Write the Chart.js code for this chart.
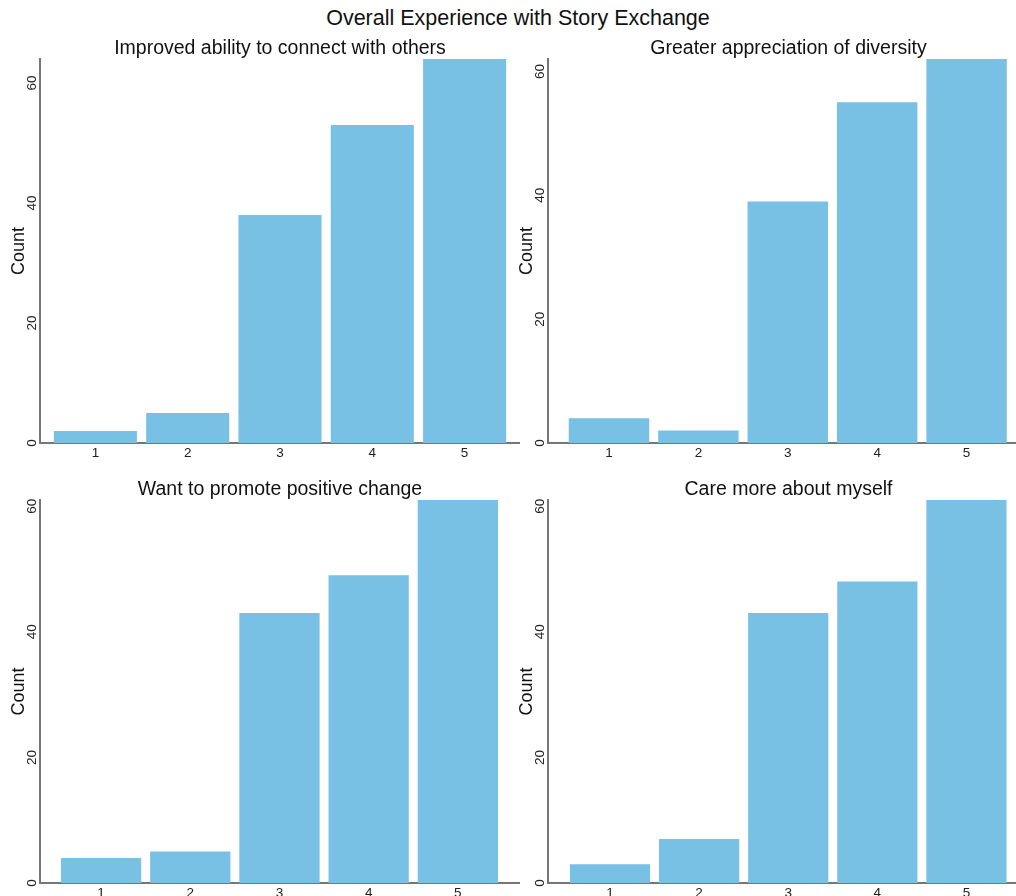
<!DOCTYPE html>
<html lang="en">
<head>
    <meta charset="UTF-8">
    <title>Overall Experience with Story Exchange</title>
    <script src="https://cdn.jsdelivr.net/npm/chart.js"></script>
    <style>
        body {
            margin: 0;
            background: #fff;
            font-family: 'Liberation Sans', Arial, sans-serif;
        }
        .page {
            position: relative;
            width: 1016px;
            height: 896px;
            overflow: hidden;
        }
        .main-title {
            position: absolute;
            left: 10px;
            top: 5px;
            width: 1016px;
            text-align: center;
            font-size: 21.5px;
            line-height: 26px;
            color: #111;
        }
        canvas {
            position: absolute;
        }
    </style>
</head>
<body>
<div class="page">
    <div class="main-title">Overall Experience with Story Exchange</div>
    <canvas id="c0" width="520" height="426" style="left:0;top:39px"></canvas>
    <canvas id="c1" width="521" height="426" style="left:508px;top:39px"></canvas>
    <canvas id="c2" width="520" height="416" style="left:0;top:480px"></canvas>
    <canvas id="c3" width="521" height="416" style="left:508px;top:480px"></canvas>
</div>

<script>
    // rating categories and answer counts per statement
    const ratings = [1, 2, 3, 4, 5];
    const connectCounts = [2, 5, 38, 53, 64];
    const diversityCounts = [4, 2, 39, 55, 62];
    const changeCounts = [4, 5, 43, 49, 61];
    const myselfCounts = [3, 7, 43, 48, 61];
    const yTicks = [0, 20, 40, 60];

    const panelTitles = [
        'Improved ability to connect with others',
        'Greater appreciation of diversity',
        'Want to promote positive change',
        'Care more about myself'
    ];
    const panelCounts = [connectCounts, diversityCounts, changeCounts, myselfCounts];

    // x range of each panel (right panels run past the page edge) and x axis strip height
    const xRanges = [[0.40, 5.60], [0.318, 5.698], [0.315, 5.697], [0.304, 5.702]];
    const xAxisHeights = [22, 22, 13, 13];

    const barColor = '#78c1e4';
    const axisColor = '#767676';
    const textColor = '#222';

    Chart.defaults.font.family = "'Liberation Sans', Arial, sans-serif";

    function makePanel(i) {
        const counts = panelCounts[i];
        new Chart(document.getElementById('c' + i), {
            type: 'bar',
            data: {
                labels: ratings,
                datasets: [{
                    data: counts,
                    backgroundColor: barColor,
                    borderWidth: 0,
                    barPercentage: 0.9,
                    categoryPercentage: 1.0
                }]
            },
            options: {
                responsive: false,
                animation: false,
                layout: { padding: 0 },
                plugins: {
                    legend: { display: false },
                    tooltip: { enabled: false },
                    title: {
                        display: true,
                        text: panelTitles[i],
                        fullSize: false,
                        color: '#111',
                        padding: 0,
                        font: { size: 19.5, weight: 'normal', lineHeight: '20px' }
                    }
                },
                scales: {
                    x: {
                        type: 'linear',
                        min: xRanges[i][0],
                        max: xRanges[i][1],
                        offset: false,
                        z: 1,
                        afterBuildTicks: s => { s.ticks = ratings.map(v => ({ value: v })); },
                        afterFit: s => { s.height = xAxisHeights[i]; },
                        grid: { display: false, drawTicks: false },
                        border: { color: axisColor, width: 2 },
                        ticks: { padding: 2, maxRotation: 0, color: textColor, font: { size: 13.5 } }
                    },
                    y: {
                        min: 0,
                        max: Math.max(...counts),
                        z: 1,
                        afterBuildTicks: s => { s.ticks = yTicks.map(v => ({ value: v })); },
                        afterFit: s => { s.width = 40; },
                        grid: { display: false, drawTicks: false },
                        border: { color: axisColor, width: 2 },
                        ticks: {
                            minRotation: 90,
                            maxRotation: 90,
                            crossAlign: 'center',
                            padding: 0,
                            color: textColor,
                            font: { size: 13.5 }
                        },
                        title: {
                            display: true,
                            text: 'Count',
                            color: '#111',
                            padding: { top: 8, bottom: 0 },
                            font: { size: 18 }
                        }
                    }
                }
            }
        });
    }

    for (let i = 0; i < 4; i++) {
        makePanel(i);
    }
</script>
</body>
</html>
